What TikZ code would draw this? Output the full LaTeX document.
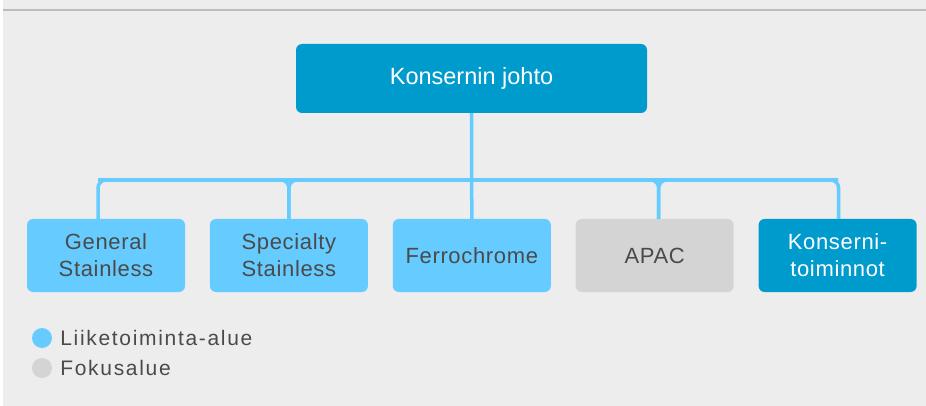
\documentclass[tikz,border=0pt]{standalone}
\usepackage{fontspec}
\setmainfont{Liberation Sans}
\usepackage{xcolor}
\usepackage{tikz}
\usetikzlibrary{positioning}
\definecolor{bgGray}{HTML}{EDEDED}
\definecolor{ruleGray}{HTML}{BDBDBD}
\definecolor{headBlue}{HTML}{009BCD}
\definecolor{areaBlue}{HTML}{66CCFF}
\definecolor{focusGray}{HTML}{D4D4D4}
\definecolor{txtGray}{HTML}{4A4A4A}
\newcommand{\boxfont}{\fontsize{22}{27}\selectfont\addfontfeatures{LetterSpace=3}}
\newcommand{\legfont}{\fontsize{21}{25}\selectfont\addfontfeatures{LetterSpace=8}}

\begin{document}
\begin{tikzpicture}[x=1pt, y=-1pt, node distance=24.5pt,
  unit/.style={rounded corners=6pt, minimum width=158pt, minimum height=73pt,
    align=center, inner sep=0pt, font=\boxfont, text=txtGray},
  area/.style={unit, fill=areaBlue},
  focus/.style={unit, fill=focusGray},
  head/.style={unit, fill=headBlue, text=white},
  link/.style={draw=areaBlue, line width=3.5pt, rounded corners=8pt},
  dot/.style={circle, fill=#1, minimum size=20pt, inner sep=0pt},
  legtext/.style={font=\legfont, text=txtGray, inner sep=2pt}]
  \useasboundingbox (0,0) rectangle (926,406);
  \fill[white] (0,0) rectangle (926,406);
  \fill[bgGray] (3,0) rectangle (926,406);
  \draw[ruleGray, line width=2pt] (3,10) -- (926,10);

  \node[head, minimum width=351pt, minimum height=69pt, font=\fontsize{23.5}{28}\selectfont]
    (johto) at (471.5,78.5) {Konsernin johto};
  \node[area] (gen) at (106,255.5) {General\\Stainless};
  \node[area, right=of gen] (spec) {Specialty\\Stainless};
  \node[area, right=of spec] (ferro) {Ferrochrome};
  \node[focus, right=of ferro] (apac) {APAC};
  \node[head, right=of apac] (kons) {Konserni-\\toiminnot};

  \coordinate (bus) at (472,180);
  \coordinate (busW) at (98,180);
  \coordinate (busE) at (838,180);
  \draw[link] (johto.south) -- (ferro.north);
  \draw[link] ([xshift=-8pt]gen.north) |- (bus) -| ([xshift=1pt]kons.north);
  \draw[link] (spec.north) |- (busW);
  \draw[link] (spec.north) |- (busE);
  \draw[link] ([xshift=4pt]apac.north) |- (busW);
  \draw[link] ([xshift=4pt]apac.north) |- (busE);

  \node[dot=areaBlue] (dotA) at (42,338) {};
  \node[legtext, right=6pt of dotA] (legA) {Liiketoiminta-alue};
  \node[dot=focusGray] (dotF) at (42,368) {};
  \node[legtext, right=6pt of dotF] (legF) {Fokusalue};
\end{tikzpicture}
\end{document}
